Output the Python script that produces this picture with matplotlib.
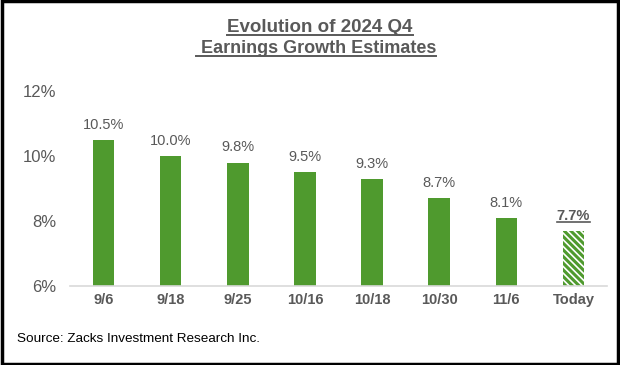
import matplotlib
matplotlib.use("Agg")
import matplotlib.pyplot as plt
from matplotlib.lines import Line2D
from matplotlib.patches import Rectangle

categories = ["9/6", "9/18", "9/25", "10/16", "10/18", "10/30", "11/6", "Today"]
values = [10.5, 10.0, 9.8, 9.5, 9.3, 8.7, 8.1, 7.7]
value_labels = ["10.5%", "10.0%", "9.8%", "9.5%", "9.3%", "8.7%", "8.1%", "7.7%"]
yticks = [6, 8, 10, 12]
ytick_labels = ["6%", "8%", "10%", "12%"]
title_lines = ["Evolution of 2024 Q4", " Earnings Growth Estimates"]
source = "Source: Zacks Investment Research Inc."

GREEN = "#4f9a2e"
GRAY = "#595959"
plt.rcParams['font.family'] = ['Liberation Sans', 'DejaVu Sans']
plt.rcParams['hatch.linewidth'] = 2.2
plt.rcParams['hatch.color'] = GREEN

fig = plt.figure(figsize=(6.2, 3.65), dpi=100)
ax = fig.add_axes([0.113, 0.2164, 0.866, 0.5343])

x = list(range(len(categories)))
n = len(categories)
for i in range(n):
    if i == n - 1:
        ax.bar(x[i], values[i] - 6, bottom=6, width=0.32, color="white",
               edgecolor=GREEN, hatch="\\" * 5, linewidth=0)
    else:
        ax.bar(x[i], values[i] - 6, bottom=6, width=0.32, color=GREEN, linewidth=0)

for i in range(n):
    if i == n - 1:
        ax.text(x[i], values[i] + 0.25, value_labels[i], ha="center", va="bottom",
                fontsize=10.5, color=GRAY, fontweight="bold")
    else:
        ax.text(x[i], values[i] + 0.25, value_labels[i], ha="center", va="bottom",
                fontsize=10.5, color=GRAY)

ax.set_ylim(6, 12)
ax.set_xlim(-0.5, n - 0.5)
ax.set_yticks(yticks)
ax.set_yticklabels(ytick_labels, fontsize=12, color=GRAY)
ax.set_xticks(x)
ax.set_xticklabels(categories, fontsize=10.5, color=GRAY, fontweight="bold")
ax.tick_params(axis="both", length=0)
ax.tick_params(axis="y", pad=10)
ax.tick_params(axis="x", pad=5)
for s in ["top", "right", "left"]:
    ax.spines[s].set_visible(False)
ax.spines["bottom"].set_color("#d9d9d9")
ax.spines["bottom"].set_linewidth(1.2)

t1 = fig.text(0.516, 0.926, title_lines[0], ha="center", va="center",
              fontsize=13.5, fontweight="bold", color=GRAY)
t2 = fig.text(0.510, 0.868, title_lines[1], ha="center", va="center",
              fontsize=13.0, fontweight="bold", color=GRAY)
fig.text(0.027, 0.072, source, ha="left", va="center", fontsize=9.7, color="black")

# border
fig.patches.append(Rectangle((0.003, 0.004), 0.994, 0.992, transform=fig.transFigure,
                             fill=False, edgecolor="black", linewidth=2.5))

# underlines
fig.canvas.draw()
r = fig.canvas.get_renderer()
inv = fig.transFigure.inverted()
for t in (t1, t2):
    bb = t.get_window_extent(r)
    (x0, y0), (x1, y1) = inv.transform([[bb.x0, bb.y0], [bb.x1, bb.y1]])
    fig.lines.append(Line2D([x0, x1], [y0 + 0.002, y0 + 0.002], transform=fig.transFigure,
                            color=GRAY, linewidth=1.4))
lbl = ax.texts[-1]
bb = lbl.get_window_extent(r)
(x0, y0), (x1, y1) = inv.transform([[bb.x0, bb.y0], [bb.x1, bb.y1]])
fig.lines.append(Line2D([x0, x1], [y0 + 0.002, y0 + 0.002], transform=fig.transFigure,
                        color=GRAY, linewidth=1.2))

fig.savefig("out.png", dpi=100)
